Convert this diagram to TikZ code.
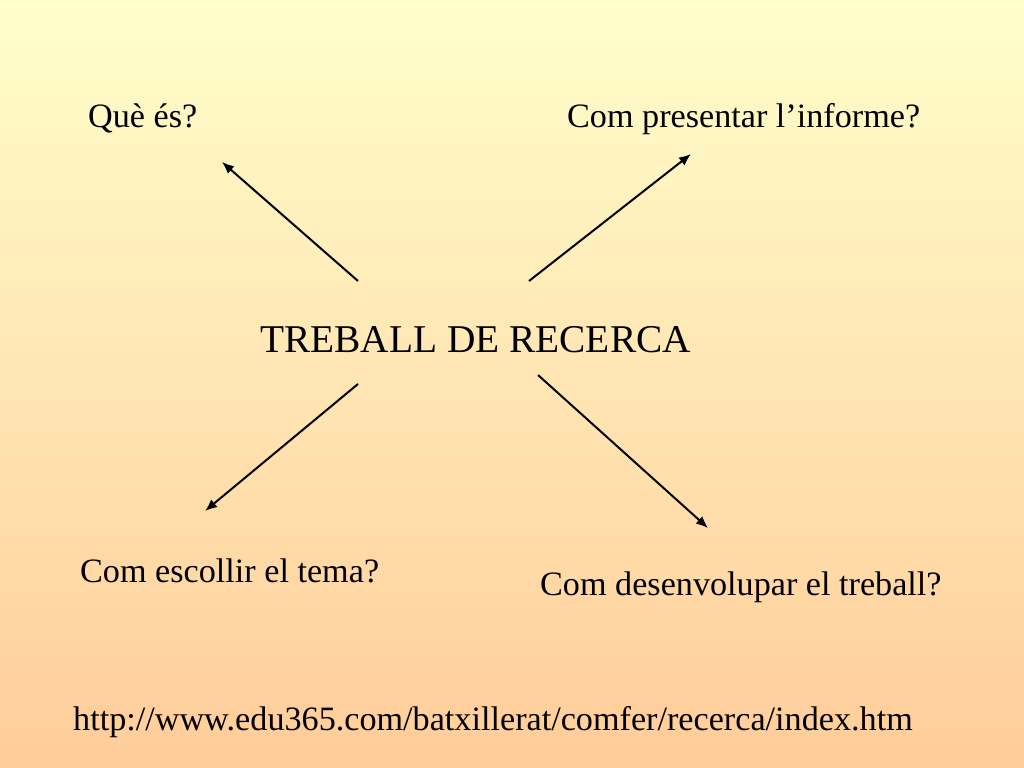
\documentclass[tikz,border=0pt]{standalone}
\usepackage{fontspec}
\setmainfont{Liberation Serif}
\usetikzlibrary{arrows.meta}
\definecolor{paleyellow}{HTML}{FFFFCC}
\definecolor{peach}{HTML}{FFCC99}

\begin{document}
\begin{tikzpicture}[x=1bp, y=-1bp,
  item/.style = {anchor=base west, inner sep=0pt, font=\fontsize{34.3}{40}\selectfont},
  head/.style = {anchor=base west, inner sep=0pt, font=\fontsize{39.5}{47}\selectfont},
  arr/.style = {-{Latex[length=12bp,width=10bp]}, line width=2bp}]

  \shade[top color=paleyellow, bottom color=peach] (0,0) rectangle (1024,768);
  \useasboundingbox (0,0) rectangle (1024,768);

  % texts
  \node[item] (que) at (88,127) {Què és?};
  \node[item] (informe) at (567,127) {Com presentar l’informe?};
  \node[head] (treball) at (260,352) {TREBALL DE RECERCA};
  \node[item] (tema) at (80,582) {Com escollir el tema?};
  \node[item] (desenv) at (540,595) {Com desenvolupar el treball?};
  \node[item] (web) at (73,730) {http://www.edu365.com/batxillerat/comfer/recerca/index.htm};

  % arrow ends
  \coordinate (a1) at (358,281);
  \coordinate (b1) at (222,162);
  \coordinate (a2) at (529,281);
  \coordinate (b2) at (691,154);
  \coordinate (a3) at (358,384);
  \coordinate (b3) at (205,511);
  \coordinate (a4) at (538,375);
  \coordinate (b4) at (708,528);

  \draw[arr] (a1) -- (b1);
  \draw[arr] (a2) -- (b2);
  \draw[arr] (a3) -- (b3);
  \draw[arr] (a4) -- (b4);

\end{tikzpicture}
\end{document}
